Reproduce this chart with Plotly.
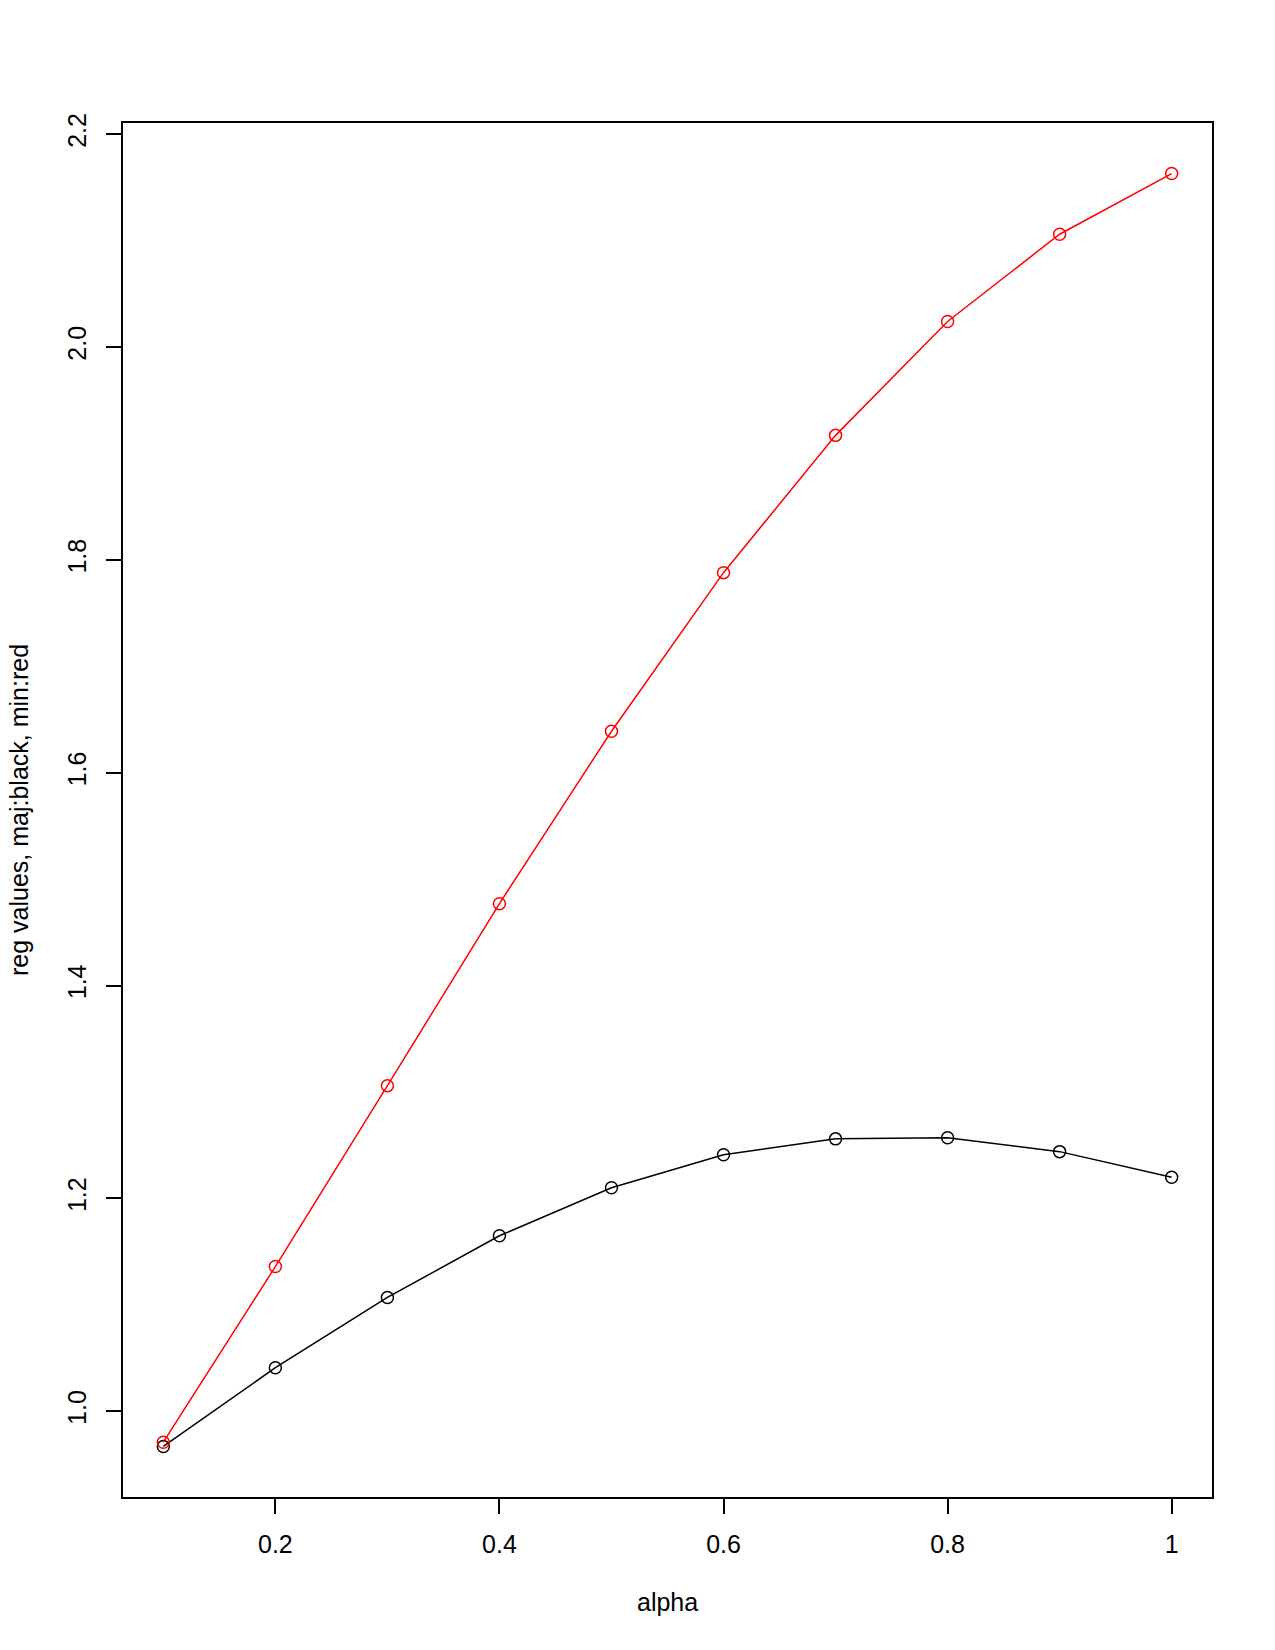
import plotly.graph_objects as go

alpha = [0.1, 0.2, 0.3, 0.4, 0.5, 0.6, 0.7, 0.8, 0.9, 1.0]
maj_values = [0.967, 1.041, 1.107, 1.165, 1.210, 1.241, 1.256, 1.257, 1.244, 1.220]
min_values = [0.971, 1.136, 1.306, 1.477, 1.639, 1.788, 1.917, 2.024, 2.106, 2.163]

x_ticks = [0.2, 0.4, 0.6, 0.8, 1.0]
x_ticklabels = ["0.2", "0.4", "0.6", "0.8", "1"]
y_ticks = [1.0, 1.2, 1.4, 1.6, 1.8, 2.0, 2.2]
y_ticklabels = ["1.0", "1.2", "1.4", "1.6", "1.8", "2.0", "2.2"]

FONT = "Liberation Sans, Arial, Helvetica, sans-serif"
FS = 25

fig = go.Figure()
fig.add_trace(go.Scatter(
    x=alpha, y=maj_values, mode="lines+markers", name="maj",
    line=dict(color="black", width=1.5),
    marker=dict(symbol="circle-open", size=12, color="black", line=dict(width=1.5)),
))
fig.add_trace(go.Scatter(
    x=alpha, y=min_values, mode="lines+markers", name="min",
    line=dict(color="red", width=1.5),
    marker=dict(symbol="circle-open", size=12, color="red", line=dict(width=1.5)),
))

fig.update_layout(
    width=1275, height=1650,
    margin=dict(l=123, r=63, t=123, b=153, pad=0),
    paper_bgcolor="white", plot_bgcolor="white",
    showlegend=False,
    font=dict(family=FONT, size=FS, color="black"),
    xaxis=dict(
        range=[0.064, 1.036], tickvals=x_ticks, ticktext=x_ticklabels,
        showgrid=False, zeroline=False, showline=True, mirror=True,
        linecolor="black", linewidth=1.5, ticks="outside", ticklen=15,
        tickwidth=1.5, tickcolor="black", ticklabelstandoff=9,
        tickfont=dict(family=FONT, size=FS, color="black"),
    ),
    yaxis=dict(
        range=[0.9195, 2.2105], tickvals=y_ticks, ticktext=y_ticklabels,
        showgrid=False, zeroline=False, showline=True, mirror=True,
        linecolor="black", linewidth=1.5, ticks="outside", ticklen=15,
        tickwidth=1.5, tickcolor="black", tickangle=-90, ticklabelstandoff=10,
        tickfont=dict(family=FONT, size=FS, color="black"),
    ),
    annotations=[
        dict(text="alpha", x=0.5, y=0, xref="paper", yref="paper",
             xanchor="center", yanchor="middle", yshift=-105, showarrow=False,
             font=dict(family=FONT, size=FS, color="black")),
        dict(text="reg values, maj:black, min:red", x=0, y=0.5, xref="paper", yref="paper",
             xanchor="center", yanchor="middle", xshift=-104, textangle=-90, showarrow=False,
             font=dict(family=FONT, size=FS, color="black")),
    ],
)

fig.write_html("out.html")
